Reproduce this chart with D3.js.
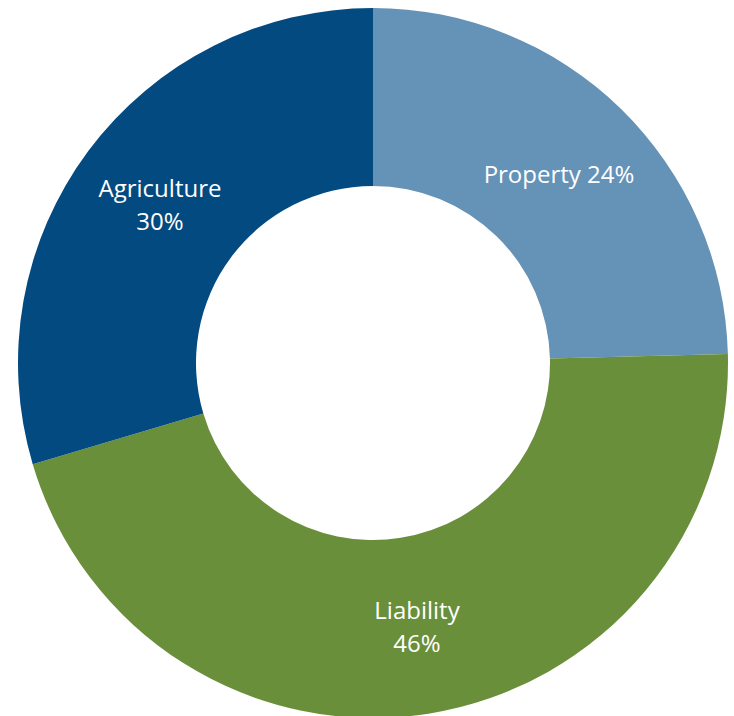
<!DOCTYPE html>
<html><head><meta charset="utf-8">
<script src="https://cdn.jsdelivr.net/npm/d3@7"></script>
<style>body{margin:0;background:#fff}svg{display:block}</style>
</head><body>
<script>
const categories = ["Property", "Liability", "Agriculture"];
const values = [24.6, 45.8, 29.6];
const labels = ["Property 24%", "Liability\n46%", "Agriculture\n30%"];
const colors = ["#6592b7", "#6a8f3b", "#034a80"];

const W = 734, H = 716, cx = 373, cy = 363, R = 355, r = 177;
const svg = d3.select("body").append("svg").attr("width", W).attr("height", H);
const g = svg.append("g").attr("transform", `translate(${cx},${cy})`);
const pie = d3.pie().sort(null).value(d => d)(values);
const arc = d3.arc().innerRadius(r).outerRadius(R);
g.selectAll("path").data(pie).join("path").attr("d", arc).attr("fill", (d, i) => colors[i]);

const labelPos = [[186, -189], [44, 263], [-213, -159]];
pie.forEach((d, i) => {
  const lines = labels[i].split("\n");
  const t = g.append("text").attr("text-anchor", "middle").attr("fill", "#fff")
    .attr("font-family", "'Open Sans', Lato, sans-serif").attr("font-size", 24)
    .attr("transform", `translate(${labelPos[i][0]},${labelPos[i][1]})`);
  lines.forEach((l, k) => t.append("tspan").attr("x", 0).attr("dy", k === 0 ? (-(lines.length - 1) * 16.5 + 9) + "px" : "33px").text(l));
});
</script>
</body></html>
